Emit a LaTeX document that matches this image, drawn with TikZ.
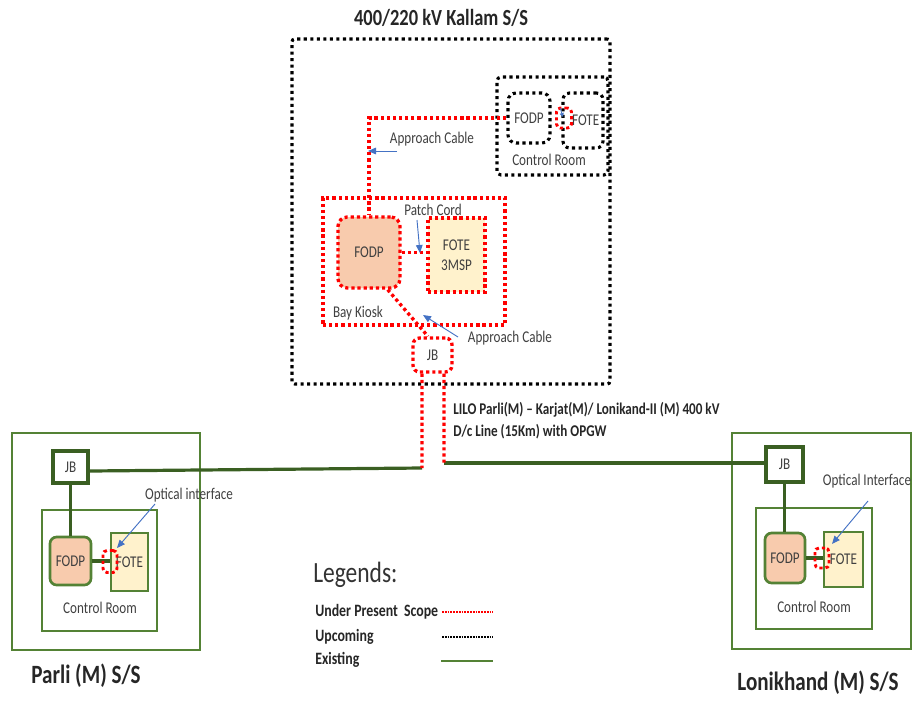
\documentclass[tikz,border=0pt]{standalone}
\usepackage{fontspec}
\setmainfont{Carlito}[FakeStretch=0.8]
\usetikzlibrary{arrows.meta}
\definecolor{kred}{HTML}{FF0000}
\definecolor{egreen}{HTML}{548235}
\definecolor{dgreen}{HTML}{3A5F22}
\definecolor{peach}{HTML}{F8CBAD}
\definecolor{lyellow}{HTML}{FFF2CC}
\definecolor{kblue}{HTML}{4472C4}
\definecolor{tgray}{HTML}{404040}
\begin{document}
\begin{tikzpicture}[x=0.75pt,y=-0.75pt,
  sz/.style n args={2}{minimum width=#1*0.75pt, minimum height=#2*0.75pt, inner sep=0pt},
  kdot/.style={draw=black, line width=2.3pt, dash pattern=on 2.3pt off 2.6pt},
  rdot/.style={draw=kred, line width=2.5pt, dash pattern=on 2.4pt off 2.2pt},
  rline/.style={draw=kred, line width=2.5pt, dash pattern=on 2.4pt off 2.2pt},
  gbox/.style={draw=egreen, line width=2pt},
  small12/.style={font=\fontsize{12.3}{15}\selectfont},
  jbbox/.style={draw=dgreen, line width=3pt, fill=white, text=tgray, small12},
  gline/.style={draw=dgreen, line width=2.4pt},
  barrow/.style={draw=kblue, line width=0.7pt, -{Triangle[length=6pt,width=5pt]}},
  lbl/.style={inner sep=0pt, text=tgray, small12},
  fodpg/.style={draw=egreen, line width=2pt, fill=peach, rounded corners=5pt, text=tgray, small12},
  foteg/.style={draw=egreen, line width=2pt, fill=lyellow, text=tgray, small12},
  bigb/.style={inner sep=0pt, font=\fontsize{19.8}{22}\selectfont\bfseries, text=black!85},
  legb/.style={inner sep=0pt, anchor=west, font=\fontsize{13}{15}\selectfont\bfseries, text=black!85}
]
\useasboundingbox (0,0) rectangle (913,700);

% ---------------- Kallam S/S ----------------
\node[kdot, sz={318}{345}, rounded corners=2pt] (kal) at (451,211.5) {};
\node[inner sep=0pt, font=\fontsize{17.3}{20}\selectfont\bfseries, text=black!85] (title) at (441,18) {400/220 kV Kallam S/S};

\node[kdot, sz={111}{98}, rounded corners=3pt] (crk) at (552.5,126) {};
\node[lbl] (crklbl) at (549,160) {Control Room};
\node[kdot, sz={42}{50}, rounded corners=6pt, text=tgray, small12] (fodps) at (529,118) {FODP};
\node[kdot, sz={40}{55}, rounded corners=5pt, text=tgray, small12] (fotes) at (583,120.5) {\hspace*{4pt}FOTE};
\node[rdot, sz={15}{20}, line width=2.2pt, rounded corners=3pt] (rbk) at (564,118) {};
\coordinate (kia) at (560,108);
\coordinate (kib) at (563,117);
\draw[kblue, line width=0.6pt, -{Triangle[length=3pt,width=3pt]}] (kia) -- (kib);

\node[rdot, sz={182}{127}] (bay) at (414,261.5) {};
\node[lbl] (baylbl) at (358,313) {Bay Kiosk};
\node[rdot, sz={62}{71}, fill=peach, rounded corners=7pt, text=tgray, small12] (fodpb) at (369,252.5) {FODP};
\node[rdot, sz={57}{74}, fill=lyellow, text=tgray, small12, align=center] (fote3) at (456.5,255) {FOTE\\3MSP};
\node[rdot, sz={39}{34}, rounded corners=5pt, text=tgray, small12] (jb) at (432.5,355) {JB};

% approach cable 1
\draw[rline] (fodps.west) -| (fodpb.north);
\node[lbl] (ac1) at (432,139) {Approach Cable};
\coordinate (ac1a) at (397,151);
\coordinate (ac1b) at (368,151);
\draw[barrow] (ac1a) -- (ac1b);

% patch cord
\draw[rline] (fodpb.east) -- (fodpb.east -| fote3.west);
\node[lbl] (pc) at (433,210) {Patch Cord};
\coordinate (pca) at (417,220);
\coordinate (pcb) at (420,253);
\draw[barrow] (pca) -- (pcb);

% approach cable 2
\draw[rline] ([xshift=14pt]fodpb.south) -- ([xshift=-3.4pt]jb.north);
\node[lbl] (ac2) at (510,338) {Approach Cable};
\coordinate (ac2a) at (458,337);
\coordinate (ac2b) at (423,315);
\draw[barrow] (ac2a) -- (ac2b);

% line out of Kallam
\coordinate (lj) at (422,468);
\coordinate (rj) at (444,463);

% ---------------- Parli S/S ----------------
\node[gbox, sz={188}{217}] (pout) at (106,541.5) {};
\node[gbox, sz={115}{121}] (pcr) at (99.5,570.5) {};
\node[lbl] (pcrlbl) at (100,608) {Control Room};
\node[jbbox, sz={35}{32}] (pjb) at (70.5,467) {JB};
\node[fodpg, sz={41}{48}] (pfodp) at (70.5,561) {FODP};
\node[foteg, sz={37}{58}] (pfote) at (129.5,562) {FOTE};
\draw[gline] (pjb) -- (pfodp);
\draw[gline] (pfodp.east) -- (pfodp.east -| pfote.west);
\node[rdot, sz={14}{22}, line width=2.2pt, rounded corners=3pt] (prb) at (110,561.5) {};
\node[lbl] (poi) at (189,495) {Optical interface};
\coordinate (poa) at (155,504);
\coordinate (pob) at (117,548);
\draw[barrow] (poa) -- (pob);
\node[bigb] (plbl) at (86,676) {Parli (M) S/S};

% ---------------- Lonikhand S/S ----------------
\node[gbox, sz={179}{216}] (lout) at (821.5,541) {};
\node[gbox, sz={116}{121}] (lcr) at (814,568.5) {};
\node[lbl] (lcrlbl) at (814,607) {Control Room};
\node[jbbox, sz={37}{35}] (ljb) at (784.5,464.5) {JB};
\node[fodpg, sz={40}{50}] (lfodp) at (785,558) {FODP};
\node[foteg, sz={39}{55}] (lfote) at (843.5,559.5) {FOTE};
\draw[gline] (ljb) -- (ljb |- lfodp.north);
\draw[gline] (lfodp.east) -- (lfodp.east -| lfote.west);
\node[rdot, sz={14}{20}, line width=2.2pt, rounded corners=3pt] (lrb) at (822,558) {};
\node[lbl] (loi) at (867,481) {Optical Interface};
\coordinate (loa) at (868,501);
\coordinate (lob) at (832,544);
\draw[barrow] (loa) -- (lob);
\node[bigb] (llbl) at (818,683) {Lonikhand (M) S/S};

% ---------------- the LILO line ----------------
\draw[gline] (lj) -- ([yshift=-3pt]pjb.east);
\draw[gline] (rj) -- (ljb.west |- rj);
\draw[rline] ([xshift=-7.9pt]jb.south) -- (lj);
\draw[rline] ([xshift=8.6pt]jb.south) -- (rj);
\node[inner sep=0pt, anchor=west, align=left, font=\fontsize{12.3}{16.5}\selectfont\bfseries, text=black!85] (lilo) at (453,421)
  {LILO Parli(M) -- Karjat(M)/ Lonikand-II (M) 400 kV\\D/c Line (15Km) with OPGW};

% ---------------- Legend ----------------
\node[inner sep=0pt, anchor=west, font=\fontsize{22}{24}\selectfont, text=black!80] (leg) at (313,575) {Legends:};
\node[legb] (l1) at (315,612) {Under Present\, Scope};
\node[legb] (l2) at (315,637) {Upcoming};
\node[legb] (l3) at (315,660) {Existing};
\coordinate (l1a) at (442,612); \coordinate (l1b) at (493,612);
\coordinate (l2a) at (442,637); \coordinate (l2b) at (493,637);
\coordinate (l3a) at (441,661); \coordinate (l3b) at (493,661);
\draw[kred, line width=1.1pt, dash pattern=on 1.4pt off 0.7pt] (l1a) -- (l1b);
\draw[black, line width=1.1pt, dash pattern=on 1.4pt off 0.7pt] (l2a) -- (l2b);
\draw[egreen, line width=2pt] (l3a) -- (l3b);
\end{tikzpicture}
\end{document}
